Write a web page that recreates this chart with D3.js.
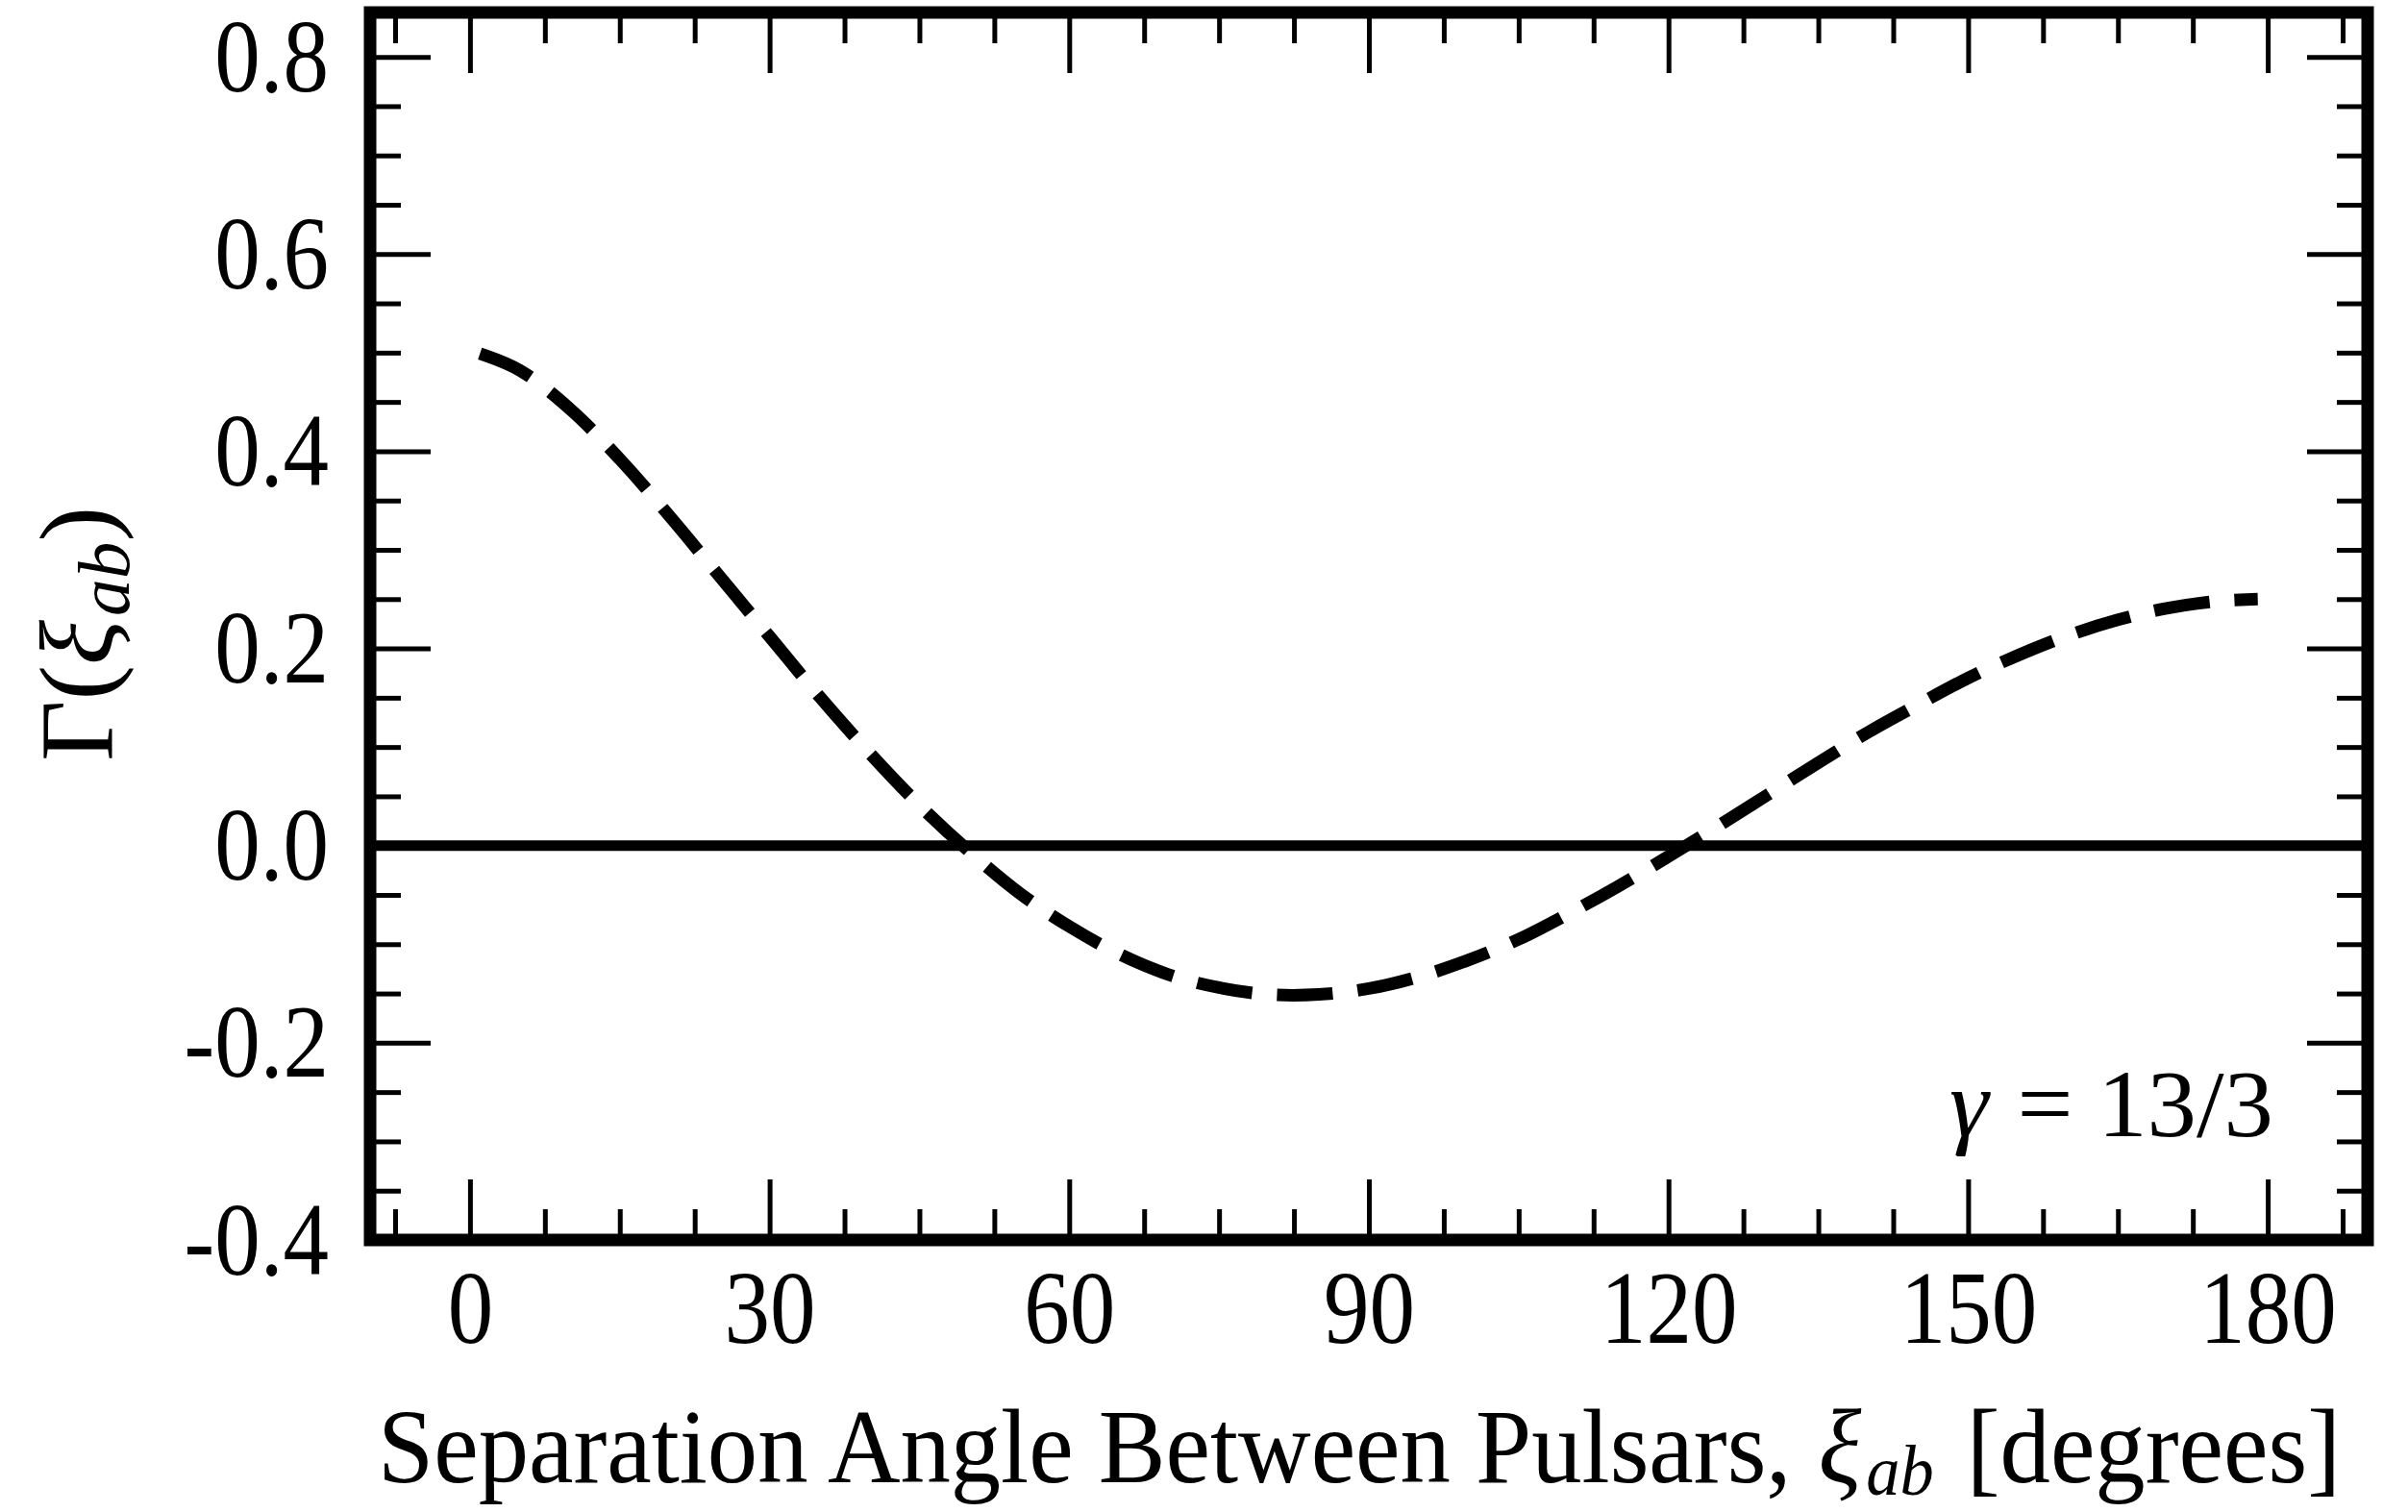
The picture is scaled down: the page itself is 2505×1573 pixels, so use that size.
<!DOCTYPE html>
<html>
<head>
<meta charset="utf-8">
<script src="https://cdn.jsdelivr.net/npm/d3@7"></script>
<style>
  html, body { margin: 0; padding: 0; background: #fff; }
  svg { display: block; }
  text { font-family: "Liberation Serif", "DejaVu Serif", serif; fill: #000; }
</style>
</head>
<body>
<svg id="chart" width="2505" height="1573"></svg>
<script>
// ---- data ----
const angles = [1, 5, 10, 15, 20, 25, 30, 35, 40, 45, 50, 55, 60, 65, 70, 75, 80, 85, 90,
  95, 100, 105, 110, 115, 120, 125, 130, 135, 140, 145, 150, 155, 160, 165, 170, 175, 179];
const gammaValues = [0.499, 0.482, 0.443, 0.392, 0.334, 0.273, 0.212, 0.151, 0.094, 0.041,
  -0.006, -0.048, -0.082, -0.110, -0.131, -0.144, -0.151, -0.151, -0.145,
  -0.133, -0.116, -0.095, -0.069, -0.041, -0.011, 0.020, 0.052, 0.084, 0.115, 0.143,
  0.170, 0.193, 0.213, 0.229, 0.241, 0.248, 0.250];
const xTickValues = [0, 30, 60, 90, 120, 150, 180];
const xTickLabels = ["0", "30", "60", "90", "120", "150", "180"];
const xMinorTicks = [-7.5, 7.5, 15, 22.5, 37.5, 45, 52.5, 67.5, 75, 82.5, 97.5, 105, 112.5,
  127.5, 135, 142.5, 157.5, 165, 172.5, 187.5];
const yTickValues = [-0.4, -0.2, 0.0, 0.2, 0.4, 0.6, 0.8];
const yTickLabels = ["-0.4", "-0.2", "0.0", "0.2", "0.4", "0.6", "0.8"];
const yMinorTicks = [-0.35, -0.3, -0.25, -0.15, -0.1, -0.05, 0.05, 0.1, 0.15, 0.25, 0.3, 0.35,
  0.45, 0.5, 0.55, 0.65, 0.7, 0.75];
// title pieces: [text, italic, subscript]
const xTitleParts = [["Separation Angle Between Pulsars,", false, false], ["ξ", true, false],
  ["ab", true, true], ["[degrees]", false, false]];
const yTitleParts = [["Γ(", false, false], ["ξ", true, false], ["ab", true, true], [")", false, false]];
const annotationParts = [["γ", true, false], ["= 13/3", false, false]];

// ---- layout ----
const L = 385, R = 2463, T = 13, B = 1290;
const FRAME = 13;
const MAJOR = 63, MINOR = 32;
const FS = 108, SX = 0.88;

const svg = d3.select("#chart");
svg.append("rect").attr("width", 2505).attr("height", 1573).attr("fill", "#fff");

const x = d3.scaleLinear().domain([-10, 190]).range([L, R]);
const y = d3.scaleLinear().domain([-0.4, 0.845]).range([B, T]);

const tickStyle = g => {
  g.select(".domain").remove();
  g.selectAll(".tick line").attr("stroke", "#000").attr("stroke-width", 5);
};

const condense = sel => sel.each(function () {
  const w = this.getComputedTextLength();
  d3.select(this).attr("textLength", w * SX).attr("lengthAdjust", "spacingAndGlyphs");
});

// zero line
svg.append("line")
  .attr("x1", x(-10)).attr("x2", x(190))
  .attr("y1", y(0)).attr("y2", y(0))
  .attr("stroke", "#000").attr("stroke-width", 11);

// curve
const pts = angles.map((a, i) => [a, gammaValues[i]]);
svg.append("path")
  .datum(pts)
  .attr("fill", "none")
  .attr("stroke", "#000")
  .attr("stroke-width", 13)
  .attr("stroke-dasharray", "58,26")
  .attr("stroke-linecap", "butt")
  .attr("d", d3.line().x(d => x(d[0])).y(d => y(d[1])).curve(d3.curveCatmullRom));

// ticks: bottom
const bottomMajor = svg.append("g").attr("transform", `translate(0,${B})`)
  .call(d3.axisBottom(x).tickValues(xTickValues).tickSizeInner(-MAJOR).tickSizeOuter(0)
    .tickFormat((d, i) => xTickLabels[i]))
  .call(tickStyle);
bottomMajor.selectAll(".tick text")
  .attr("y", 107).attr("dy", null).attr("x", 0)
  .attr("text-anchor", "middle")
  .style("font-size", FS + "px")
  .style("font-family", '"Liberation Serif", "DejaVu Serif", serif')
  .attr("fill", "#000")
  .call(condense);
svg.append("g").attr("transform", `translate(0,${B})`)
  .call(d3.axisBottom(x).tickValues(xMinorTicks).tickSizeInner(-MINOR).tickSizeOuter(0).tickFormat(""))
  .call(tickStyle);

// top
svg.append("g").attr("transform", `translate(0,${T})`)
  .call(d3.axisTop(x).tickValues(xTickValues).tickSizeInner(-MAJOR).tickSizeOuter(0).tickFormat(""))
  .call(tickStyle);
svg.append("g").attr("transform", `translate(0,${T})`)
  .call(d3.axisTop(x).tickValues(xMinorTicks).tickSizeInner(-MINOR).tickSizeOuter(0).tickFormat(""))
  .call(tickStyle);

// left
const leftMajor = svg.append("g").attr("transform", `translate(${L},0)`)
  .call(d3.axisLeft(y).tickValues(yTickValues).tickSizeInner(-MAJOR).tickSizeOuter(0)
    .tickFormat((d, i) => yTickLabels[i]))
  .call(tickStyle);
leftMajor.selectAll(".tick text")
  .attr("x", 342 - L).attr("y", 35).attr("dy", null)
  .attr("text-anchor", "end")
  .style("font-size", FS + "px")
  .style("font-family", '"Liberation Serif", "DejaVu Serif", serif')
  .attr("fill", "#000")
  .call(condense);
svg.append("g").attr("transform", `translate(${L},0)`)
  .call(d3.axisLeft(y).tickValues(yMinorTicks).tickSizeInner(-MINOR).tickSizeOuter(0).tickFormat(""))
  .call(tickStyle);

// right
svg.append("g").attr("transform", `translate(${R},0)`)
  .call(d3.axisRight(y).tickValues(yTickValues).tickSizeInner(-MAJOR).tickSizeOuter(0).tickFormat(""))
  .call(tickStyle);
svg.append("g").attr("transform", `translate(${R},0)`)
  .call(d3.axisRight(y).tickValues(yMinorTicks).tickSizeInner(-MINOR).tickSizeOuter(0).tickFormat(""))
  .call(tickStyle);

// frame
svg.append("rect")
  .attr("x", L).attr("y", T).attr("width", R - L).attr("height", B - T)
  .attr("fill", "none").attr("stroke", "#000").attr("stroke-width", FRAME)
  .attr("stroke-linejoin", "miter");

// compose a label from separate text pieces, fitted to a total width
function compose(parent, parts, fontSize, subSize, subDrop, gaps, totalW) {
  const nodes = parts.map(([t, it, sub]) => parent.append("text")
    .style("font-size", (sub ? subSize : fontSize) + "px")
    .style("font-style", it ? "italic" : "normal")
    .attr("y", sub ? subDrop : 0)
    .text(t));
  const widths = nodes.map(n => n.node().getComputedTextLength());
  const gapSum = gaps.reduce((a, b) => a + b, 0);
  const s = (totalW - gapSum) / widths.reduce((a, b) => a + b, 0);
  let cx = 0;
  nodes.forEach((n, i) => {
    const w = widths[i] * s;
    n.attr("x", cx).attr("textLength", w).attr("lengthAdjust", "spacingAndGlyphs");
    cx += w + (gaps[i] || 0);
  });
}

// x title (left at 393, baseline ~1542, width 2042)
const xg = svg.append("g").attr("transform", "translate(393,1542)");
compose(xg, xTitleParts, 110, 74, 13, [28, 5, 34, 0], 2042);

// y title (rotated, centered at y=660, baseline x=116, length 265)
const yg = svg.append("g").attr("transform", "translate(116,792) rotate(-90)");
compose(yg, yTitleParts, 108, 76, 18, [0, 4, 0, 0], 265);

// annotation (left 2028, baseline 1182, width 337)
const ag = svg.append("g").attr("transform", "translate(2028,1182)");
compose(ag, annotationParts, 100, 70, 0, [30, 0], 337);
</script>
</body>
</html>
